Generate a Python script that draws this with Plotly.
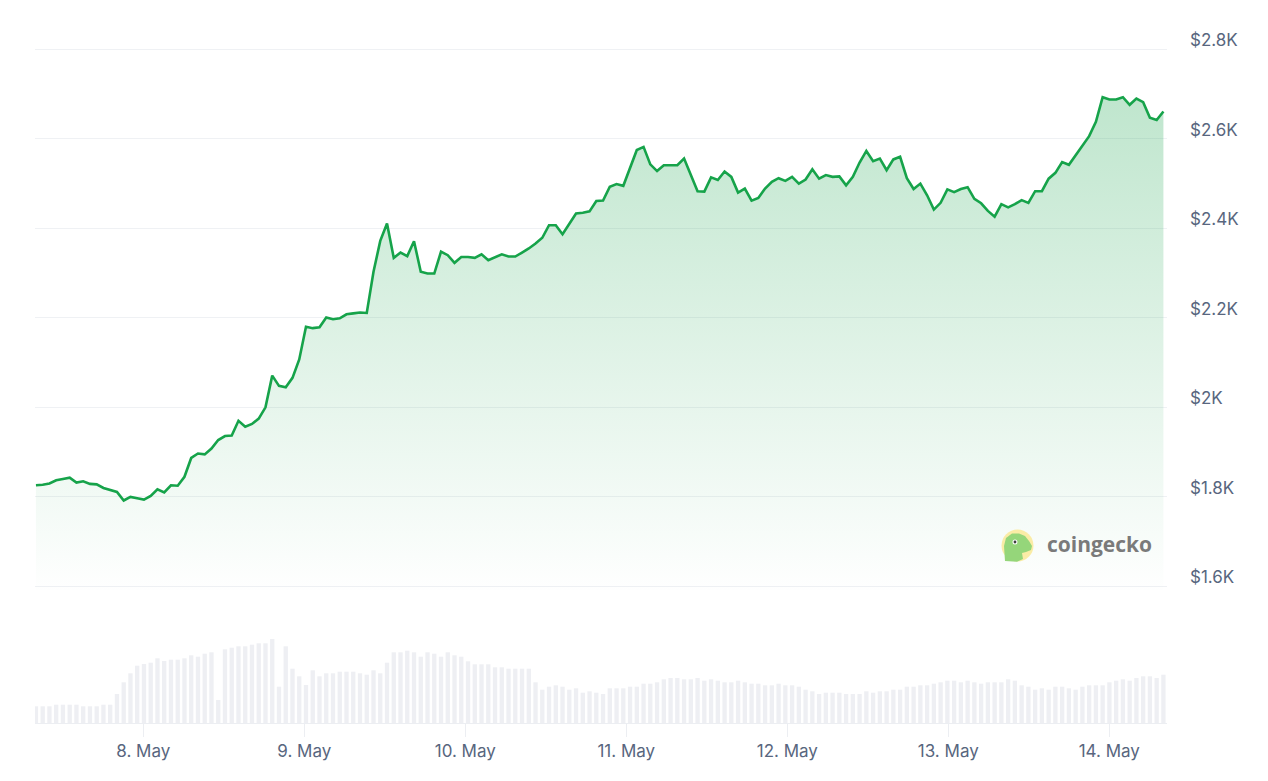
import pandas as pd
import plotly.graph_objects as go

# ---------------- data ----------------
start_time = "2025-05-07 08:00"
n_points = 168
step_seconds = 3623  # ~hourly samples

price = [
    1826, 1827, 1830, 1837, 1840, 1843, 1832, 1835, 1829, 1828,
    1820, 1816, 1811, 1792, 1800, 1797, 1794, 1802, 1817, 1810,
    1826, 1825, 1845, 1887, 1897, 1895, 1908, 1927, 1936, 1937,
    1970, 1957, 1963, 1975, 2000, 2071, 2048, 2045, 2066, 2107,
    2180, 2177, 2179, 2201, 2197, 2199, 2208, 2210, 2212, 2211,
    2303, 2372, 2411, 2334, 2346, 2338, 2371, 2303, 2299, 2299,
    2348, 2340, 2323, 2336, 2336, 2334, 2342, 2329, 2335, 2342,
    2337, 2337, 2346, 2355, 2366, 2379, 2407, 2407, 2387, 2410,
    2433, 2435, 2438, 2461, 2462, 2493, 2499, 2495, 2534, 2575,
    2582, 2543, 2528, 2541, 2541, 2541, 2556, 2519, 2483, 2482,
    2514, 2508, 2527, 2515, 2480, 2489, 2462, 2468, 2489, 2504,
    2512, 2506, 2515, 2500, 2509, 2532, 2511, 2519, 2515, 2516,
    2496, 2515, 2547, 2573, 2550, 2556, 2530, 2554, 2560, 2512,
    2488, 2500, 2474, 2442, 2457, 2487, 2481, 2488, 2492, 2466,
    2456, 2439, 2426, 2454, 2447, 2454, 2463, 2457, 2483, 2483,
    2511, 2524, 2548, 2542, 2564, 2585, 2606, 2638, 2693, 2688,
    2688, 2693, 2676, 2690, 2682, 2647, 2642, 2661,
]

# relative trading volume (bar heights)
volume = [
    16.7, 16.7, 16.7, 18.3, 18.3, 18.3, 18.3, 16.7, 16.7, 16.7,
    18.3, 18.3, 29.0, 40.7, 49.7, 57.3, 59.0, 60.3, 64.7, 62.0,
    63.3, 63.3, 64.7, 67.7, 66.3, 69.3, 70.7, 23.0, 73.7, 75.3,
    76.7, 76.7, 78.3, 79.7, 79.7, 84.0, 36.3, 76.7, 54.3, 46.7,
    38.0, 52.7, 46.7, 49.7, 49.7, 51.3, 51.3, 51.3, 49.7, 48.3,
    52.7, 49.7, 60.3, 70.7, 70.7, 72.3, 70.7, 66.3, 70.7, 69.3,
    66.3, 70.7, 67.7, 66.3, 61.7, 58.7, 58.7, 58.7, 55.7, 55.7,
    54.3, 54.3, 54.3, 54.3, 40.7, 33.3, 36.3, 37.7, 36.3, 33.3,
    34.7, 30.3, 31.7, 30.3, 29.0, 34.7, 34.7, 34.7, 36.3, 36.3,
    39.3, 39.3, 40.7, 43.7, 45.0, 45.0, 43.7, 43.7, 45.0, 42.3,
    43.7, 42.3, 40.7, 40.7, 42.3, 40.7, 39.3, 39.3, 37.7, 37.7,
    39.3, 37.7, 37.7, 36.3, 33.3, 31.7, 29.0, 30.3, 30.3, 30.3,
    29.0, 29.0, 29.0, 31.7, 30.3, 31.7, 31.7, 33.3, 33.3, 36.3,
    36.3, 37.7, 37.7, 39.3, 40.7, 42.3, 42.3, 40.7, 42.3, 40.7,
    39.3, 40.7, 40.7, 40.7, 43.7, 42.3, 37.7, 36.3, 33.3, 34.7,
    33.3, 36.3, 36.3, 34.7, 33.3, 36.3, 37.7, 37.7, 37.7, 40.7,
    42.3, 43.7, 42.3, 45.0, 46.7, 46.7, 45.0, 48.3,
]

price_ticks = [1600, 1800, 2000, 2200, 2400, 2600, 2800]
price_tick_text = ["$1.6K", "$1.8K", "$2K", "$2.2K", "$2.4K", "$2.6K", "$2.8K"]

x_range = ["2025-05-07 07:51:36", "2025-05-14 08:36:06"]
price_range = [1592, 2865.5]
volume_range = [0, 93]

times = pd.date_range(start_time, periods=n_points, freq=f"{step_seconds}s")

# ---------------- layout geometry ----------------
# the page body has an 8px margin, so the figure is sized/offset to compensate
PAGE_OFF = 8
W, H = 1260, 773
ML, MR, MT, MB = 27, 101, 12, 58
PW = W - ML - MR
PH = H - MT - MB


def px_x(px):
    return (px - PAGE_OFF - ML) / PW


def px_y(py):
    return (PAGE_OFF + H - MB - py) / PH


LABEL_COLOR = "#58667e"
GRID_COLOR = "#eff1f4"
LINE_GREEN = "#16a34a"

fig = go.Figure()

fig.add_trace(go.Bar(
    x=times, y=volume, xaxis="x", yaxis="y2",
    marker=dict(color="#eeeff3", line=dict(width=0)),
    hoverinfo="skip", showlegend=False,
))

fig.add_trace(go.Scatter(
    x=times, y=price, xaxis="x", yaxis="y",
    mode="lines",
    line=dict(color=LINE_GREEN, width=2.6),
    fill="tozeroy",
    fillgradient=dict(
        type="vertical",
        colorscale=[[0, "rgba(22,163,74,0.0)"], [1, "rgba(22,163,74,0.30)"]],
        start=1580, stop=2800,
    ),
    showlegend=False,
))

fig.update_layout(
    width=W, height=H,
    margin=dict(l=ML, r=MR, t=MT, b=MB),
    paper_bgcolor="white", plot_bgcolor="white",
    bargap=0.36,
    showlegend=False,
    xaxis=dict(
        type="date", range=x_range, anchor="y2",
        showgrid=False, zeroline=False,
        showline=True, linecolor="#eceef2", linewidth=1,
        ticks="outside", ticklen=13, tickcolor="#eceef2", tickwidth=1,
        tick0="2025-05-08", dtick=86400000, tickformat="%-d. %b",
        tickfont=dict(family="Inter", size=17, color=LABEL_COLOR),
    ),
    yaxis=dict(
        domain=[px_y(590), 1], range=price_range, anchor="x", side="right",
        tickvals=price_ticks, ticktext=price_tick_text,
        showgrid=True, gridcolor=GRID_COLOR, gridwidth=1, zeroline=False,
        ticks="", ticklabelstandoff=22, ticklabelshift=-9,
        tickfont=dict(family="Inter", size=17, color=LABEL_COLOR),
    ),
    yaxis2=dict(
        domain=[0, px_y(630)], range=volume_range, anchor="x",
        visible=False, showgrid=False, zeroline=False,
    ),
)

# CoinGecko watermark (logo + wordmark)
cx, cy, r = 1017.5, 545.5, 16
fig.add_shape(type="circle", xref="paper", yref="paper",
              x0=px_x(cx - r), x1=px_x(cx + r), y0=px_y(cy + r), y1=px_y(cy - r),
              fillcolor="#faeca6", line=dict(width=0), layer="above")

head = [(1005, 561), (1004, 546), (1006, 538), (1012, 533.5), (1019, 533.5),
        (1025, 536), (1029, 541), (1032, 546), (1031, 550), (1026, 552),
        (1022, 553), (1023, 559), (1017, 561.8)]
path = "M " + " L ".join(f"{px_x(a):.5f},{px_y(b):.5f}" for a, b in head) + " Z"
fig.add_shape(type="path", xref="paper", yref="paper", path=path,
              fillcolor="#95d67a", line=dict(width=0), layer="above")
fig.add_shape(type="circle", xref="paper", yref="paper",
              x0=px_x(1012.5), x1=px_x(1017.5), y0=px_y(544.5), y1=px_y(539.5),
              fillcolor="white", line=dict(width=0), layer="above")
fig.add_shape(type="circle", xref="paper", yref="paper",
              x0=px_x(1013.6), x1=px_x(1016.4), y0=px_y(543.4), y1=px_y(540.6),
              fillcolor="#3d3d3d", line=dict(width=0), layer="above")

fig.add_annotation(
    xref="paper", yref="paper", x=px_x(1045), y=px_y(544),
    xanchor="left", yanchor="middle", showarrow=False,
    text="<b>coingecko</b>",
    font=dict(family="Open Sans", size=21, color="#7a7a7a"),
)

fig.write_html("out.html")
